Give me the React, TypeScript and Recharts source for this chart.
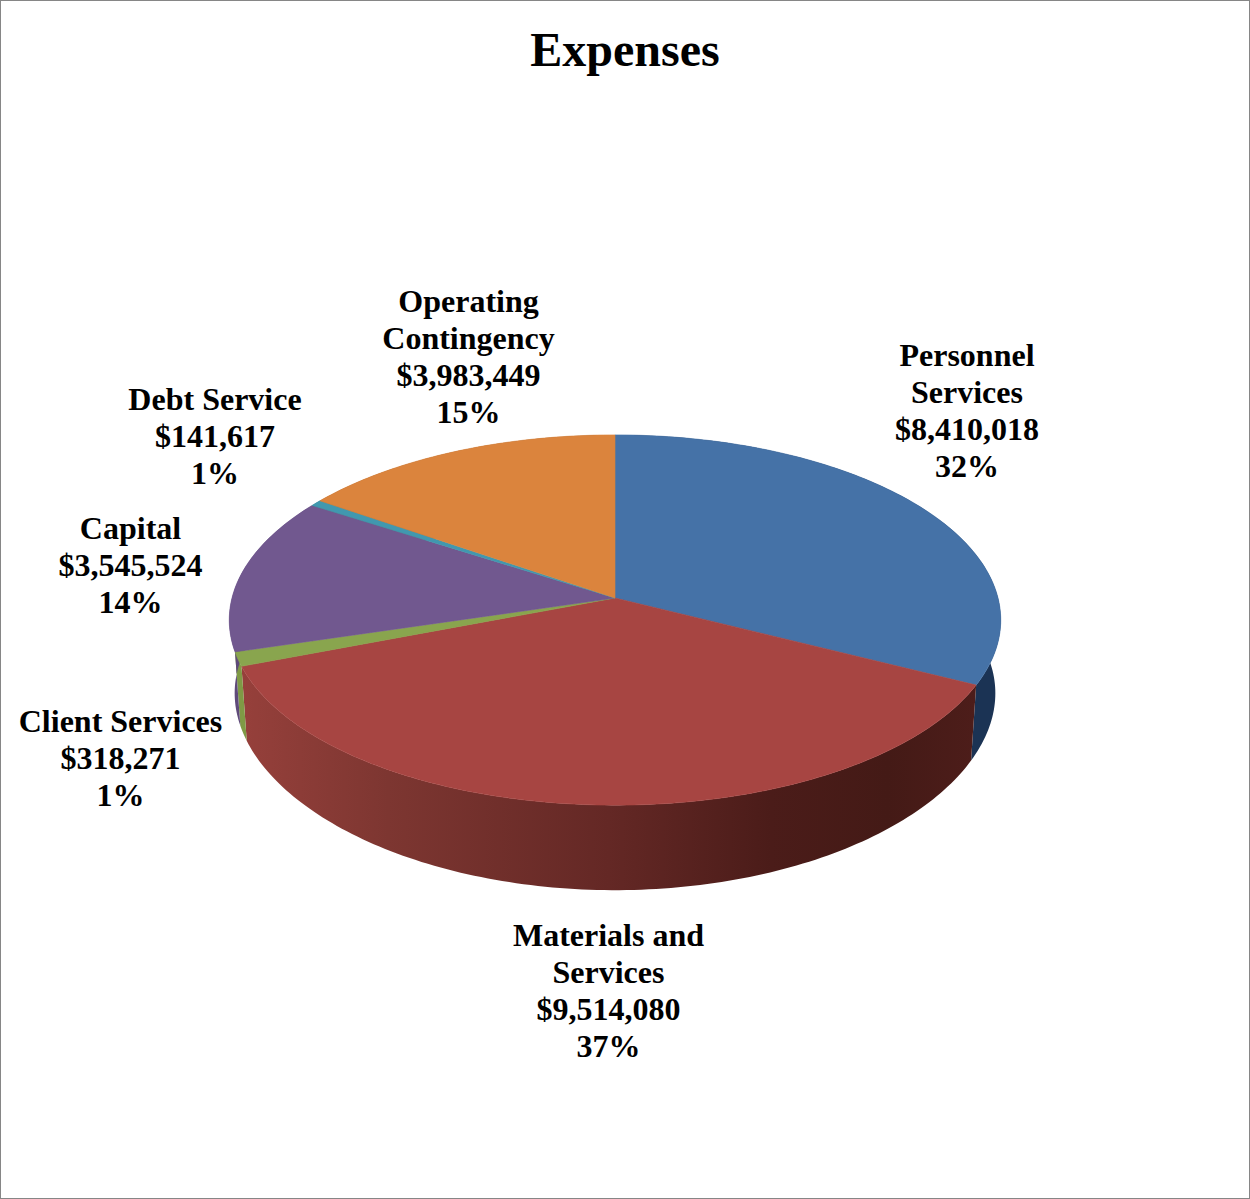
import { Pie, PieChart } from 'recharts'

const categories = [
  'Personnel Services',
  'Materials and Services',
  'Client Services',
  'Capital',
  'Debt Service',
  'Operating Contingency',
]
const categoryLines = [
  ['Personnel', 'Services'],
  ['Materials and', 'Services'],
  ['Client Services'],
  ['Capital'],
  ['Debt Service'],
  ['Operating', 'Contingency'],
]
const amounts = [8410018, 9514080, 318271, 3545524, 141617, 3983449]
const topColors = ['#4572a7', '#a74542', '#89a54e', '#71588f', '#4198af', '#db843d']
const wallColors = ['#1b3354', 'url(#redWall)', '#7f9a45', '#5f4a7a', '#2a6575', '#8f5527']

// label centre x and first baseline y
const labelSpots = [
  [967, 366],
  [608.5, 946],
  [120.5, 732],
  [130.5, 539],
  [215, 410],
  [468.5, 312],
]

const CX = 615
const CY = 598
const RADIUS = 383
const TILT = 0.4765
const PERSPECTIVE = -0.119

const table = categories.map((name, i) => ({
  name,
  value: amounts[i],
  fill: topColors[i],
  wall: wallColors[i],
}))

// angle in degrees as Recharts gives it, point on the tilted top rim
function rimPoint(angle: number, cx: number, cy: number, r: number) {
  const rad = (angle * Math.PI) / 180
  const u = Math.cos(rad)
  const v = -Math.sin(rad)
  const w = 1 + PERSPECTIVE * v
  return { x: cx + (r * u) / w, y: cy + (r * TILT * v) / w, v }
}

function rimAngles(start: number, end: number) {
  const steps = Math.max(2, Math.ceil(Math.abs(end - start)))
  return Array.from({ length: steps + 1 }, (_, i) => start + ((end - start) * i) / steps)
}

function TopSlice(props: any) {
  const { cx, cy, outerRadius, startAngle, endAngle, fill } = props
  const rim = rimAngles(startAngle, endAngle).map((a) => rimPoint(a, cx, cy, outerRadius))
  const d = `M${cx},${cy} ` + rim.map((p) => `L${p.x},${p.y}`).join(' ') + ' Z'
  return <path d={d} fill={fill} stroke={fill} strokeWidth={0.6} />
}

function WallSlice(props: any) {
  const { cx, cy, outerRadius, startAngle, endAngle, wall } = props
  const rim = rimAngles(startAngle, endAngle).map((a) => rimPoint(a, cx, cy, outerRadius))
  // the lower rim sits a little narrower and drops further toward the viewer
  const lower = rim
    .map((p) => ({ x: cx + (p.x - cx) * 0.986, y: p.y + 73 + 12 * p.v * p.v }))
    .reverse()
  const d = 'M' + [...rim, ...lower].map((p) => `${p.x},${p.y}`).join(' L') + ' Z'
  return <path d={d} fill={wall} stroke="none" />
}

function SliceLabel(props: any) {
  const { index, percent, value } = props
  const [x, y] = labelSpots[index]
  const lines = [
    ...categoryLines[index],
    '$' + value.toLocaleString('en-US'),
    Math.round(percent * 100) + '%',
  ]
  return (
    <text
      x={x}
      y={y}
      textAnchor="middle"
      fontFamily="'Liberation Serif', serif"
      fontWeight="bold"
      fontSize={32}
      fill="#000"
    >
      {lines.map((line, i) => (
        <tspan key={i} x={x} y={y + i * 36.9}>
          {line}
        </tspan>
      ))}
    </text>
  )
}

export default function App() {
  return (
    <div
      style={{
        position: 'absolute',
        left: 0,
        top: 0,
        width: 1250,
        height: 1199,
        boxSizing: 'border-box',
        border: '1px solid #868686',
        background: '#fff',
        overflow: 'hidden',
      }}
    >
      <div style={{ position: 'absolute', left: -1, top: -1 }}>
        <PieChart width={1250} height={1199} margin={{ top: 0, right: 0, bottom: 0, left: 0 }}>
          <defs>
            <linearGradient id="redWall" x1="0" y1="0" x2="1" y2="0">
              <stop offset="0%" stopColor="#96403b" />
              <stop offset="20%" stopColor="#7d3631" />
              <stop offset="50%" stopColor="#642825" />
              <stop offset="72%" stopColor="#4b1c19" />
              <stop offset="88%" stopColor="#441a16" />
              <stop offset="100%" stopColor="#4d1d1a" />
            </linearGradient>
          </defs>
          <text
            x={625}
            y={66}
            textAnchor="middle"
            fontFamily="'Liberation Serif', serif"
            fontWeight="bold"
            fontSize={48}
            fill="#000"
          >
            Expenses
          </text>
          <Pie
            data={table}
            dataKey="value"
            cx={CX}
            cy={CY}
            outerRadius={RADIUS}
            startAngle={90}
            endAngle={-270}
            shape={WallSlice}
            label={false}
            labelLine={false}
            isAnimationActive={false}
          />
          <Pie
            data={table}
            dataKey="value"
            cx={CX}
            cy={CY}
            outerRadius={RADIUS}
            startAngle={90}
            endAngle={-270}
            shape={TopSlice}
            label={SliceLabel}
            labelLine={false}
            isAnimationActive={false}
          />
        </PieChart>
      </div>
    </div>
  )
}
